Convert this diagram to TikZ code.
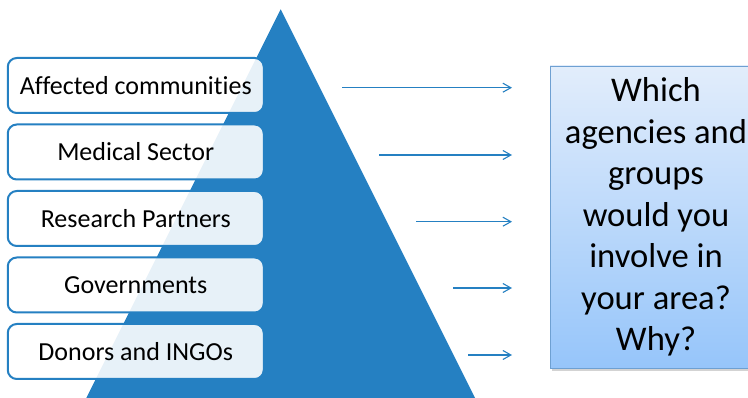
\documentclass[tikz,border=0pt]{standalone}
\usepackage{fontspec}
\setmainfont{Carlito}[Ligatures={NoCommon}]
\usepackage{xcolor}
\usepackage{tikz}
\usetikzlibrary{arrows.meta,positioning,shadows}

\definecolor{pyrblue}{RGB}{37,128,194}
\definecolor{qtop}{RGB}{226,237,251}
\definecolor{qbottom}{RGB}{150,197,250}
\definecolor{qborder}{RGB}{110,160,210}

\tikzset{
  stakeholder/.style={draw=pyrblue, line width=2pt, rounded corners=9pt,
    fill=white, fill opacity=0.89, text opacity=1,
    minimum width=256pt, minimum height=55pt,
    font=\fontsize{26}{30}\selectfont},
  question/.style={draw=qborder, line width=0.8pt,
    top color=qtop, bottom color=qbottom,
    minimum width=212pt, minimum height=302pt,
    align=center, font=\fontsize{34.6}{41.5}\selectfont,
    drop shadow={shadow xshift=1.5pt, shadow yshift=-3pt, opacity=0.35}},
  pointer/.style={pyrblue, line width=1.1pt,
    -{Straight Barb[length=8pt,width=9pt]}}
}

\begin{document}
\begin{tikzpicture}[x=1pt, y=-1pt]
      \useasboundingbox (0,0) rectangle (748,398) ;

      % pyramid
      \coordinate (apex) at (280.7,9.3) ;
      \fill[pyrblue] (apex) -- (475,398) -- (86.3,398) -- cycle ;

      \node[stakeholder] (aff) at (135.75,85.5) {Affected communities} ;
      \node[stakeholder, below=9.5pt of aff] (med) {Medical Sector} ;
      \node[stakeholder, below=9.5pt of med] (res) {Research Partners} ;
      \node[stakeholder, below=9.5pt of res] (gov) {Governments} ;
      \node[stakeholder, below=9.5pt of gov] (don) {Donors and INGOs} ;

      \node[question] (ask) at (656,217)
        {Which\\agencies and\\groups\\would you\\involve in\\your area?\\Why?} ;

      \coordinate (a1) at (342,87.7) ;
      \coordinate (a2) at (379,155) ;
      \coordinate (a3) at (416,221.7) ;
      \coordinate (a4) at (453,288) ;
      \coordinate (a5) at (468,355) ;

      \coordinate (b1) at (512,87.7) ;
      \coordinate (b2) at (512,155) ;
      \coordinate (b3) at (512,221.7) ;
      \coordinate (b4) at (512,288) ;
      \coordinate (b5) at (512,355) ;

      \path[pointer]
      (a1) edge (b1)
      (a2) edge (b2)
      (a3) edge (b3)
      (a4) edge (b4)
      (a5) edge (b5)
      ;

    \end{tikzpicture}
\end{document}
